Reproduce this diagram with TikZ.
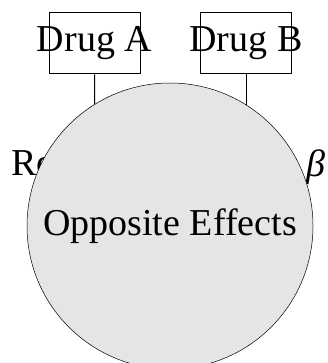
\documentclass[tikz,border=0pt]{standalone}
\usepackage{fontspec}
\setmainfont{Liberation Serif}
\begin{document}
\begin{tikzpicture}[x=1pt,y=-1pt,
  big/.style={font=\fontsize{38}{44}\selectfont},
  drugbox/.style={draw, line width=1pt, minimum width=91pt, minimum height=61pt, inner sep=0pt, big},
  lbl/.style={inner sep=0pt, big},
  conn/.style={line width=1pt},
  effect/.style={circle, draw, line width=0.5pt, fill=gray!20, minimum size=286pt, inner sep=0pt, big}]
\useasboundingbox (0,0) rectangle (328,363);
\node[drugbox] (da) at (94.5,43.5) {\makebox[0pt]{Drug A}};
\node[drugbox] (db) at (246,43.5) {\makebox[0pt]{Drug B}};
\node[lbl] (ra) at (95,167) {Receptor \textit{α}};
\node[lbl] (rb) at (243,167) {Receptor \textit{β}};
\draw[conn] (da) -- (ra);
\draw[conn] (db) -- (db |- rb.north);
\node[effect] (oe) at (170,226) {Opposite Effects};
\end{tikzpicture}
\end{document}
